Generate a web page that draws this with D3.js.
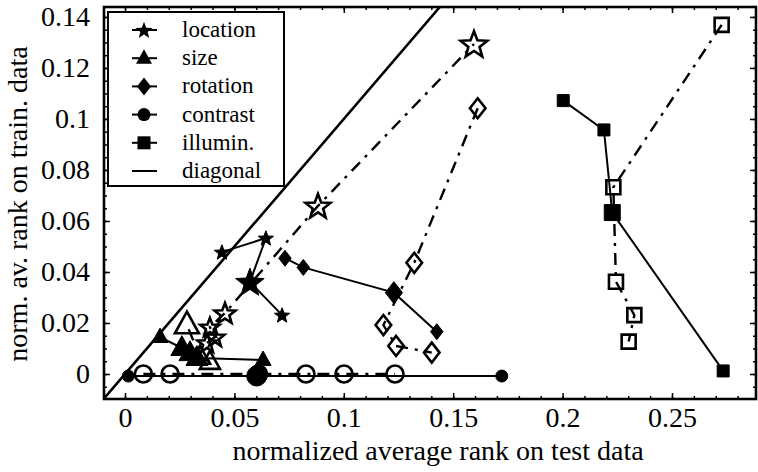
<!DOCTYPE html>
<html>
<head>
<meta charset="utf-8">
<script src="https://cdn.jsdelivr.net/npm/d3@7"></script>
<style>
  body { margin: 0; background: #fff; }
  svg { display: block; }
  svg text { font-family: "Liberation Serif", "Times New Roman", "DejaVu Serif", serif !important; fill: #000; }
</style>
</head>
<body>
<svg id="chart" width="758" height="472"></svg>
<script>
// ---- data: [test rank, train rank] per run ----
const xTicks = [0, 0.05, 0.1, 0.15, 0.2, 0.25];
const xTickLabels = ["0", "0.05", "0.1", "0.15", "0.2", "0.25"];
const yTicks = [0, 0.02, 0.04, 0.06, 0.08, 0.1, 0.12, 0.14];
const yTickLabels = ["0", "0.02", "0.04", "0.06", "0.08", "0.1", "0.12", "0.14"];

const legendLabels = ["location", "size", "rotation", "contrast", "illumin.", "diagonal"];

const locationSolid = [[0.0443, 0.0478], [0.0644, 0.0533], [0.0571, 0.0361], [0.0718, 0.0231]];
const locationDash  = [[0.0375, 0.0122], [0.0411, 0.0145], [0.0388, 0.0184], [0.0457, 0.0239], [0.0882, 0.0659], [0.1595, 0.1294]];

const sizeSolid = [[0.0160, 0.0145], [0.0260, 0.0102], [0.0297, 0.0082], [0.0329, 0.0063], [0.0631, 0.0055]];
const sizeDash  = [[0.0388, 0.0047], [0.0343, 0.0067], [0.0283, 0.0192]];

const rotationSolid = [[0.0731, 0.0454], [0.0815, 0.0418], [0.1229, 0.0319], [0.1425, 0.0166]];
const rotationDash  = [[0.1612, 0.1042], [0.1322, 0.0436], [0.1181, 0.0192], [0.1239, 0.0110], [0.1402, 0.0084]];

const contrastSolid = [[0.0015, -0.0008], [0.0602, -0.0008], [0.1722, -0.0008]];
const contrastDash  = [[0.0084, 0.0000], [0.0206, 0.0000], [0.0610, 0.0000], [0.0827, 0.0000], [0.1001, 0.0000], [0.1234, 0.0000]];

const illuminSolid = [[0.2003, 0.1072], [0.2189, 0.0957], [0.2227, 0.0633], [0.2734, 0.0012]];
const illuminDash  = [[0.2727, 0.1369], [0.2232, 0.0732], [0.2244, 0.0362], [0.2328, 0.0231], [0.2302, 0.0127]];

// ---- marker sizes (px) per point ----
const markerPx = {
  locationSolid: [16, 16, 30, 16],
  locationDash:  [20, 20, 20, 22, 26, 28],
  sizeSolid:     [16, 22, 22, 22, 16],
  sizeDash:      [20, 20, 24],
  rotationSolid: [16, 16, 22, 16],
  rotationDash:  [20, 20, 20, 20, 20],
  contrastSolid: [12, 20, 12],
  contrastDash:  [17, 17, 17, 17, 17, 17],
  illuminSolid:  [12, 12, 16, 12],
  illuminDash:   [14, 14, 14, 14, 14]
};

const serif = "Liberation Serif, Times New Roman, DejaVu Serif, serif";

// ---- layout ----
const svg = d3.select("#chart").attr("font-family", serif);
const plot = { left: 104, right: 756, top: 7, bottom: 399 };

const x = d3.scaleLinear().domain([-0.0096, 0.2884]).range([plot.left, plot.right]);
const y = d3.scaleLinear().domain([-0.0098, 0.1439]).range([plot.bottom, plot.top]);

svg.append("defs").append("clipPath").attr("id", "plotClip")
  .append("rect")
  .attr("x", plot.left).attr("y", plot.top)
  .attr("width", plot.right - plot.left).attr("height", plot.bottom - plot.top);

// ---- marker shapes ----
function starPath(size) {
  const R = size / 2, r = R * 0.42, pts = [];
  for (let i = 0; i < 10; i++) {
    const a = -Math.PI / 2 + i * Math.PI / 5;
    const rr = i % 2 === 0 ? R : r;
    pts.push([rr * Math.cos(a), rr * Math.sin(a) + R * 0.08]);
  }
  return "M" + pts.map(p => p.join(",")).join("L") + "Z";
}
function trianglePath(size) {
  const w = size, h = size * 0.9;
  return `M0,${-h * 0.62}L${w / 2},${h * 0.38}L${-w / 2},${h * 0.38}Z`;
}
function diamondPath(size) {
  const w = size * 0.78, h = size;
  return `M0,${-h / 2}L${w / 2},0L0,${h / 2}L${-w / 2},0Z`;
}
function squarePath(size) {
  const s = size / 2;
  return `M${-s},${-s}H${s}V${s}H${-s}Z`;
}
function circlePath(size) {
  const r = size / 2;
  return `M${r},0A${r},${r} 0 1,1 ${-r},0A${r},${r} 0 1,1 ${r},0Z`;
}

const series = [
  { key: "locationSolid", pts: locationSolid, shape: starPath,     filled: true },
  { key: "locationDash",  pts: locationDash,  shape: starPath,     filled: false },
  { key: "sizeSolid",     pts: sizeSolid,     shape: trianglePath, filled: true },
  { key: "sizeDash",      pts: sizeDash,      shape: trianglePath, filled: false },
  { key: "rotationSolid", pts: rotationSolid, shape: diamondPath,  filled: true },
  { key: "rotationDash",  pts: rotationDash,  shape: diamondPath,  filled: false },
  { key: "contrastSolid", pts: contrastSolid, shape: circlePath,   filled: true },
  { key: "contrastDash",  pts: contrastDash,  shape: circlePath,   filled: false },
  { key: "illuminSolid",  pts: illuminSolid,  shape: squarePath,   filled: true },
  { key: "illuminDash",   pts: illuminDash,   shape: squarePath,   filled: false }
];

const dashPattern = "12,7,3,7";

// ---- diagonal ----
const dLo = Math.max(x.domain()[0], y.domain()[0]);
const dHi = Math.min(x.domain()[1], y.domain()[1]);
svg.append("line")
  .attr("clip-path", "url(#plotClip)")
  .attr("x1", x(dLo)).attr("y1", y(dLo))
  .attr("x2", x(dHi)).attr("y2", y(dHi))
  .attr("stroke", "#000").attr("stroke-width", 2.6);

// ---- connecting lines ----
const line = d3.line().x(d => x(d[0])).y(d => y(d[1]));
const gLines = svg.append("g").attr("clip-path", "url(#plotClip)");
series.forEach(s => {
  gLines.append("path")
    .attr("d", line(s.pts))
    .attr("fill", "none")
    .attr("stroke", "#000")
    .attr("stroke-width", s.filled ? 2 : 2.4)
    .attr("stroke-dasharray", s.filled ? null : dashPattern);
});

// ---- markers (open ones drawn first) ----
const gMarks = svg.append("g");
[...series.filter(s => !s.filled), ...series.filter(s => s.filled)].forEach(s => {
  gMarks.selectAll(null)
    .data(s.pts)
    .join("path")
    .attr("transform", d => `translate(${x(d[0])},${y(d[1])})`)
    .attr("d", (d, i) => s.shape(markerPx[s.key][i]))
    .attr("fill", s.filled ? "#000" : "none")
    .attr("stroke", "#000")
    .attr("stroke-width", s.filled ? 1 : 2.6)
    .attr("stroke-linejoin", "miter");
});

// ---- axes: ticks point inward on all four sides ----
const fontTick = 28;
const xMinor = d3.range(0, 0.2885, 0.01);
const yMinor = d3.range(-0.005, 0.1439, 0.005);

function styleAxis(g) {
  g.attr("font-family", serif);
  g.select(".domain").remove();
  g.selectAll(".tick line").attr("stroke", "#000").attr("stroke-width", 1.5);
}

svg.append("g").attr("transform", `translate(0,${plot.bottom})`)
  .call(d3.axisBottom(x).tickValues(xMinor).tickSize(-3).tickFormat(""))
  .call(styleAxis);
svg.append("g").attr("transform", `translate(0,${plot.top})`)
  .call(d3.axisTop(x).tickValues(xMinor).tickSize(-3).tickFormat(""))
  .call(styleAxis);
svg.append("g").attr("transform", `translate(${plot.left},0)`)
  .call(d3.axisLeft(y).tickValues(yMinor).tickSize(-3).tickFormat(""))
  .call(styleAxis);
svg.append("g").attr("transform", `translate(${plot.right},0)`)
  .call(d3.axisRight(y).tickValues(yMinor).tickSize(-3).tickFormat(""))
  .call(styleAxis);

const xAxis = svg.append("g").attr("transform", `translate(0,${plot.bottom})`)
  .call(d3.axisBottom(x).tickValues(xTicks).tickSize(-6).tickPadding(8)
    .tickFormat((d, i) => xTickLabels[i]))
  .call(styleAxis);
xAxis.selectAll("text").attr("font-size", fontTick).attr("font-family", serif);

svg.append("g").attr("transform", `translate(0,${plot.top})`)
  .call(d3.axisTop(x).tickValues(xTicks).tickSize(-6).tickFormat(""))
  .call(styleAxis);

const yAxis = svg.append("g").attr("transform", `translate(${plot.left},0)`)
  .call(d3.axisLeft(y).tickValues(yTicks).tickSize(-6).tickPadding(14)
    .tickFormat((d, i) => yTickLabels[i]))
  .call(styleAxis);
yAxis.selectAll("text").attr("font-size", fontTick).attr("font-family", serif);

svg.append("g").attr("transform", `translate(${plot.right},0)`)
  .call(d3.axisRight(y).tickValues(yTicks).tickSize(-6).tickFormat(""))
  .call(styleAxis);

// frame
svg.append("rect")
  .attr("x", plot.left).attr("y", plot.top)
  .attr("width", plot.right - plot.left).attr("height", plot.bottom - plot.top)
  .attr("fill", "none").attr("stroke", "#000").attr("stroke-width", 2.6);

// ---- axis titles ----
svg.append("text")
  .attr("x", 438).attr("y", 460)
  .attr("text-anchor", "middle")
  .attr("font-family", serif)
  .attr("font-size", 28)
  .text("normalized average rank on test data");

svg.append("text")
  .attr("transform", "translate(27,204) rotate(-90)")
  .attr("text-anchor", "middle")
  .attr("font-family", serif)
  .attr("font-size", 28)
  .text("norm. av. rank on train. data");

// ---- legend ----
const legend = svg.append("g");
legend.append("rect")
  .attr("x", 108).attr("y", 12).attr("width", 176).attr("height", 174)
  .attr("fill", "#fff").attr("stroke", "#000").attr("stroke-width", 2);

const legendShapes = [starPath, trianglePath, diamondPath, circlePath, squarePath, null];
const legendSizes = [18, 16, 18, 13, 13, 0];
legendLabels.forEach((lab, i) => {
  const cy = 30 + i * 28.2;
  legend.append("line")
    .attr("x1", 132).attr("x2", 157).attr("y1", cy).attr("y2", cy)
    .attr("stroke", "#000").attr("stroke-width", 2);
  if (legendShapes[i]) {
    legend.append("path")
      .attr("transform", `translate(144,${cy})`)
      .attr("d", legendShapes[i](legendSizes[i]))
      .attr("fill", "#000");
  }
  legend.append("text")
    .attr("x", 182).attr("y", cy + 7)
    .attr("font-family", serif)
    .attr("font-size", 23)
    .text(lab);
});
</script>
</body>
</html>
